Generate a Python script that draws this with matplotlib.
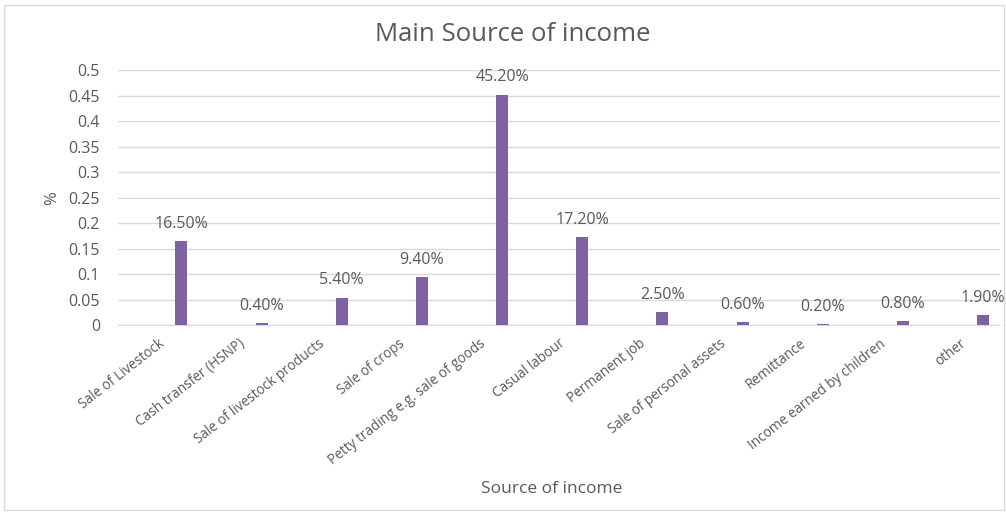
import matplotlib
matplotlib.use("Agg")
import matplotlib.pyplot as plt
from matplotlib.patches import Rectangle

categories = [
    "Sale of Livestock", "Cash transfer (HSNP)", "Sale of livestock products",
    "Sale of crops", "Petty trading e.g. sale of goods", "Casual labour",
    "Permanent job", "Sale of personal assets", "Remittance",
    "Income earned by children", "other",
]
shares = [0.165, 0.004, 0.054, 0.094, 0.452, 0.172, 0.025, 0.006, 0.002, 0.008, 0.019]
yticks = [0, 0.05, 0.1, 0.15, 0.2, 0.25, 0.3, 0.35, 0.4, 0.45, 0.5]
ytick_labels = ["0", "0.05", "0.1", "0.15", "0.2", "0.25", "0.3", "0.35", "0.4", "0.45", "0.5"]

plt.rcParams["font.family"] = ["Open Sans", "DejaVu Sans"]
text_color = "#595959"
bar_color = "#7F62A1"

fig = plt.figure(figsize=(10.06, 5.16), dpi=100)
fig.patches.append(Rectangle((0.004, 0.012), 0.994, 0.978, transform=fig.transFigure,
                             fill=False, edgecolor="#D9D9D9", linewidth=1))
ax = fig.add_axes([0.1173, 0.370, 0.8767, 0.494])

idx = list(range(len(categories)))
bar_x = [i + 0.29 for i in idx]
ax.bar(bar_x, shares, width=0.15, color=bar_color, zorder=3)

for x, v in zip(bar_x, shares):
    ax.annotate(f"{v * 100:.2f}%", (x, v), xytext=(0, 12.5), textcoords="offset points",
                ha="center", va="center", fontsize=11.5, color=text_color)

ax.set_xlim(-0.5, len(categories) - 0.5)
ax.set_ylim(0, 0.5)
ax.set_yticks(yticks)
ax.set_yticklabels(ytick_labels, fontsize=11.5, color=text_color)
ax.set_xticks(idx)
ax.set_xticklabels(categories, rotation=38, ha="right", rotation_mode="anchor",
                   fontsize=9.8, color=text_color)
ax.tick_params(axis="both", length=0)
ax.tick_params(axis="y", pad=13)
ax.tick_params(axis="x", pad=8)

ax.grid(axis="y", color="#D9D9D9", linewidth=1, zorder=0)
for side in ["top", "right", "left"]:
    ax.spines[side].set_visible(False)
ax.spines["bottom"].set_color("#D9D9D9")

ax.set_ylabel("%", fontsize=12, color=text_color, labelpad=6)
fig.text(0.548, 0.052, "Source of income", ha="center", va="center",
         fontsize=12.5, color=text_color)
fig.text(0.510, 0.934, "Main Source of income", ha="center", va="center",
         fontsize=18.5, color=text_color)

fig.savefig("out.png", dpi=100, facecolor="white")
